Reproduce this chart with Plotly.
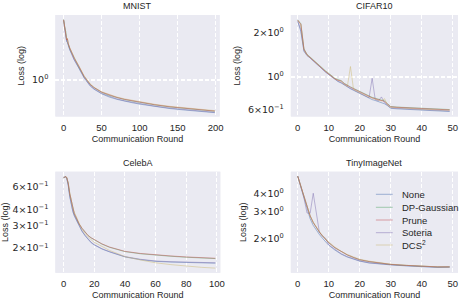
import math
import plotly.graph_objects as go

# ---------------- data ----------------
series_names = ["None", "DP-Gaussian", "Prune", "Soteria", "DCS<sup>2</sup>"]
series_colors = ["#4C72B0", "#55A868", "#C44E52", "#8172B2", "#CCB974"]

# MNIST
mnist_rounds = [0, 1, 2, 3, 4, 5, 6, 8, 10, 14, 20, 27, 35, 40, 50, 60, 70, 80, 90, 100, 120, 140, 160, 180, 199]
mnist_none = [2.28, 2.10, 1.93, 1.80, 1.70, 1.68, 1.61, 1.52, 1.45, 1.32, 1.18, 1.03, 0.92, 0.88, 0.826, 0.79, 0.765, 0.745, 0.73, 0.716, 0.692, 0.673, 0.659, 0.646, 0.636]
mnist_dp = [2.31, 2.12, 2.02, 1.95, 1.75, 1.76, 1.65, 1.55, 1.48, 1.35, 1.20, 1.05, 0.94, 0.90, 0.843, 0.808, 0.783, 0.763, 0.748, 0.733, 0.708, 0.688, 0.673, 0.659, 0.649]
mnist_prune = [2.30, 2.15, 1.98, 1.84, 1.74, 1.77, 1.66, 1.56, 1.49, 1.35, 1.21, 1.05, 0.94, 0.90, 0.845, 0.81, 0.785, 0.765, 0.75, 0.735, 0.71, 0.69, 0.675, 0.66, 0.65]
mnist_soteria = [2.29, 2.12, 1.95, 1.81, 1.71, 1.70, 1.62, 1.53, 1.46, 1.325, 1.185, 1.035, 0.925, 0.885, 0.83, 0.795, 0.77, 0.75, 0.735, 0.72, 0.696, 0.677, 0.662, 0.649, 0.639]
mnist_dcs = [2.30, 2.16, 1.99, 1.85, 1.76, 1.79, 1.67, 1.57, 1.50, 1.36, 1.22, 1.06, 0.95, 0.905, 0.85, 0.815, 0.79, 0.77, 0.755, 0.74, 0.714, 0.694, 0.679, 0.664, 0.654]

# CIFAR10
cifar_rounds = list(range(0, 31)) + [32, 35, 38, 41, 44, 47, 49]
cifar_none = [2.40, 2.05, 1.50, 1.40, 1.35, 1.29, 1.23, 1.17, 1.12, 1.08, 1.04, 1.00, 0.96, 0.93, 0.91, 0.88, 0.85, 0.83, 0.81, 0.79, 0.77, 0.75, 0.73, 0.71, 0.70, 0.69, 0.68, 0.67, 0.655, 0.635, 0.61, 0.605, 0.60, 0.595, 0.59, 0.585, 0.582, 0.58]
cifar_dp = [2.46, 2.32, 1.56, 1.43, 1.37, 1.31, 1.25, 1.19, 1.14, 1.10, 1.06, 1.02, 0.98, 0.96, 0.945, 0.905, 0.875, 0.855, 0.835, 0.815, 0.795, 0.775, 0.755, 0.745, 0.725, 0.715, 0.705, 0.695, 0.685, 0.655, 0.628, 0.622, 0.617, 0.612, 0.607, 0.603, 0.60, 0.598]
cifar_prune = [2.45, 2.30, 1.55, 1.42, 1.36, 1.30, 1.24, 1.18, 1.13, 1.09, 1.05, 1.01, 0.97, 0.95, 0.94, 0.90, 0.87, 0.85, 0.83, 0.81, 0.79, 0.77, 0.75, 0.74, 0.72, 0.71, 0.70, 0.69, 0.68, 0.65, 0.625, 0.62, 0.615, 0.61, 0.605, 0.60, 0.598, 0.595]
cifar_soteria = [2.42, 2.10, 1.52, 1.41, 1.35, 1.29, 1.23, 1.17, 1.12, 1.08, 1.04, 1.00, 0.96, 0.935, 0.915, 0.885, 0.86, 0.835, 0.815, 0.795, 0.775, 0.755, 0.735, 0.72, 0.98, 0.70, 0.685, 0.73, 0.665, 0.64, 0.615, 0.61, 0.605, 0.60, 0.595, 0.59, 0.587, 0.585]
cifar_dcs = [2.44, 2.28, 1.54, 1.41, 1.36, 1.30, 1.24, 1.18, 1.13, 1.09, 1.05, 1.01, 0.97, 0.95, 0.93, 0.89, 0.86, 1.18, 0.82, 0.80, 0.78, 0.76, 0.745, 0.73, 0.715, 0.705, 0.695, 0.685, 0.71, 0.64, 0.62, 0.615, 0.61, 0.605, 0.60, 0.597, 0.594, 0.592]

# CelebA
celeba_rounds = [0, 1, 2, 3, 4, 5, 6, 7, 8, 10, 12, 14, 16, 18, 20, 25, 30, 35, 40, 50, 60, 70, 80, 90, 99]
celeba_none = [0.70, 0.72, 0.70, 0.62, 0.50, 0.43, 0.385, 0.355, 0.335, 0.30, 0.27, 0.25, 0.232, 0.22, 0.212, 0.197, 0.187, 0.178, 0.171, 0.163, 0.158, 0.156, 0.155, 0.154, 0.153]
celeba_dp = [0.70, 0.72, 0.71, 0.64, 0.53, 0.46, 0.41, 0.37, 0.35, 0.31, 0.285, 0.265, 0.25, 0.24, 0.232, 0.215, 0.203, 0.195, 0.188, 0.181, 0.176, 0.173, 0.170, 0.168, 0.166]
celeba_prune = [0.70, 0.72, 0.71, 0.64, 0.53, 0.46, 0.41, 0.37, 0.35, 0.31, 0.286, 0.266, 0.251, 0.241, 0.233, 0.216, 0.204, 0.196, 0.189, 0.182, 0.177, 0.174, 0.171, 0.169, 0.167]
celeba_soteria = [0.70, 0.72, 0.70, 0.62, 0.51, 0.44, 0.39, 0.36, 0.34, 0.303, 0.273, 0.252, 0.236, 0.222, 0.213, 0.198, 0.188, 0.179, 0.172, 0.164, 0.159, 0.157, 0.156, 0.155, 0.154]
celeba_dcs = [0.70, 0.72, 0.71, 0.65, 0.54, 0.46, 0.41, 0.38, 0.355, 0.31, 0.28, 0.26, 0.245, 0.232, 0.222, 0.205, 0.192, 0.182, 0.172, 0.162, 0.154, 0.149, 0.145, 0.142, 0.140]

# TinyImageNet
tiny_rounds = [0, 1, 2, 3, 4, 5, 6, 7, 8, 9, 10, 12, 14, 16, 18, 20, 23, 26, 30, 35, 40, 45, 49]
tiny_none = [5.20, 4.40, 3.70, 3.12, 2.70, 2.44, 2.26, 2.12, 2.00, 1.89, 1.80, 1.67, 1.57, 1.50, 1.45, 1.41, 1.37, 1.35, 1.33, 1.31, 1.295, 1.28, 1.285]
tiny_dp = [5.20, 4.50, 3.80, 3.25, 2.82, 2.55, 2.36, 2.20, 2.07, 1.96, 1.87, 1.73, 1.63, 1.55, 1.49, 1.44, 1.40, 1.37, 1.34, 1.32, 1.30, 1.29, 1.29]
tiny_prune = [5.20, 4.50, 3.80, 3.25, 2.82, 2.55, 2.36, 2.20, 2.07, 1.96, 1.87, 1.73, 1.63, 1.55, 1.49, 1.44, 1.40, 1.37, 1.34, 1.32, 1.30, 1.29, 1.29]
tiny_soteria = [5.20, 4.42, 3.72, 2.95, 2.94, 4.00, 2.95, 2.18, 2.08, 2.00, 1.81, 1.68, 1.58, 1.51, 1.455, 1.415, 1.375, 1.355, 1.335, 1.315, 1.30, 1.285, 1.29]
tiny_dcs = [5.20, 4.52, 3.82, 3.27, 2.84, 2.57, 2.38, 2.22, 2.09, 1.98, 1.89, 1.75, 1.64, 1.56, 1.50, 1.45, 1.41, 1.375, 1.345, 1.322, 1.302, 1.292, 1.29]

# tick labels
mnist_xticks = [0, 50, 100, 150, 200]
cifar_xticks = [0, 10, 20, 30, 40, 50]
celeba_xticks = [0, 20, 40, 60, 80, 100]
tiny_xticks = [0, 10, 20, 30, 40, 50]
mnist_yticks = [1.0]
mnist_yticktext = ["10<sup>0</sup>"]
cifar_yticks = [0.6, 1.0, 2.0]
cifar_yticktext = ["6×10<sup>−1</sup>", "10<sup>0</sup>", "2×10<sup>0</sup>"]
celeba_yticks = [0.2, 0.3, 0.4, 0.6]
celeba_yticktext = ["2×10<sup>−1</sup>", "3×10<sup>−1</sup>", "4×10<sup>−1</sup>", "6×10<sup>−1</sup>"]
tiny_yticks = [2.0, 3.0, 4.0]
tiny_yticktext = ["2×10<sup>0</sup>", "3×10<sup>0</sup>", "4×10<sup>0</sup>"]

# ---------------- layout geometry ----------------
W, H = 465, 303
TEXT = "#262626"
BG = "#EAEAF2"
FONT = "Liberation Sans"
MATHFONT = "DejaVu Sans"
LINE_W = 0.9
LINE_OP = 0.55


def px_x(a, b):
    return [a / W, b / W]


def px_y(top, bottom):
    return [1 - bottom / H, 1 - top / H]


panels = [
    dict(title="MNIST", rounds=mnist_rounds,
         ys=[mnist_none, mnist_dp, mnist_prune, mnist_soteria, mnist_dcs],
         xdom=px_x(56, 222), ydom=px_y(15, 116.5), xrange=[-10.8, 205.3],
         yrange=[0.603, 2.46], xticks=mnist_xticks, yticks=mnist_yticks,
         yticktext=mnist_yticktext, grid1=True),
    dict(title="CIFAR10", rounds=cifar_rounds,
         ys=[cifar_none, cifar_dp, cifar_prune, cifar_soteria, cifar_dcs],
         xdom=px_x(294, 463), ydom=px_y(15, 116.5), xrange=[-2.23, 51.7],
         yrange=[0.536, 2.66], xticks=cifar_xticks, yticks=cifar_yticks,
         yticktext=cifar_yticktext, grid1=True),
    dict(title="CelebA", rounds=celeba_rounds,
         ys=[celeba_none, celeba_dp, celeba_prune, celeba_soteria, celeba_dcs],
         xdom=px_x(56, 222.7), ydom=px_y(171.7, 272.7), xrange=[-5.35, 102.2],
         yrange=[0.129, 0.785], xticks=celeba_xticks, yticks=celeba_yticks,
         yticktext=celeba_yticktext, grid1=False),
    dict(title="TinyImageNet", rounds=tiny_rounds,
         ys=[tiny_none, tiny_dp, tiny_prune, tiny_soteria, tiny_dcs],
         xdom=px_x(294, 463), ydom=px_y(171.7, 272.7), xrange=[-2.23, 51.7],
         yrange=[1.18, 5.57], xticks=tiny_xticks, yticks=tiny_yticks,
         yticktext=tiny_yticktext, grid1=False),
]

# drawing order (later on top): None, Soteria, DP-Gaussian, DCS2, Prune
draw_order = [0, 3, 1, 4, 2]

fig = go.Figure()
annotations = []
shapes = []

for i, p in enumerate(panels):
    k = "" if i == 0 else str(i + 1)
    for j in draw_order:
        fig.add_trace(go.Scatter(
            x=p["rounds"], y=p["ys"][j], mode="lines", name=series_names[j],
            line=dict(color=series_colors[j], width=LINE_W), opacity=LINE_OP,
            xaxis="x" + k, yaxis="y" + k, showlegend=False, hoverinfo="skip",
        ))
    xa = dict(
        domain=p["xdom"], anchor="y" + k, range=p["xrange"],
        tickvals=p["xticks"], ticktext=[str(t) for t in p["xticks"]],
        showgrid=True, gridcolor="white", griddash="4px,2px", gridwidth=1.1,
        zeroline=False, showline=False, ticks="",
        tickfont=dict(family=FONT, size=9.5, color=TEXT), ticklabelstandoff=4,
        title=dict(text="Communication Round", font=dict(family=FONT, size=9, color=TEXT), standoff=3),
    )
    ya = dict(
        domain=p["ydom"], anchor="x" + k, type="log",
        range=[math.log10(p["yrange"][0]), math.log10(p["yrange"][1])],
        tickvals=p["yticks"], ticktext=p["yticktext"],
        showgrid=False, zeroline=False, showline=False, ticks="",
        tickfont=dict(family=MATHFONT, size=9.5, color=TEXT), ticklabelstandoff=6,
        title=dict(text="Loss (log)", font=dict(family=FONT, size=9, color=TEXT), standoff=5),
    )
    if p["grid1"]:
        ya["minor"] = dict(tickmode="array", tickvals=[1.0], showgrid=True,
                           gridcolor="white", griddash="4px,2px", gridwidth=1.1, ticks="")
    fig.update_layout(**{"xaxis" + k: xa, "yaxis" + k: ya})
    # plot background
    shapes.append(dict(type="rect", xref="paper", yref="paper",
                       x0=p["xdom"][0], x1=p["xdom"][1], y0=p["ydom"][0], y1=p["ydom"][1],
                       fillcolor=BG, line=dict(width=0), layer="below"))
    annotations.append(dict(text=p["title"], xref="paper", yref="paper",
                            x=(p["xdom"][0] + p["xdom"][1]) / 2, y=p["ydom"][1],
                            xanchor="center", yanchor="bottom", yshift=2, showarrow=False,
                            font=dict(family=FONT, size=9, color=TEXT)))

# legend (inside TinyImageNet panel)
leg_rows = [194.3, 207.3, 220.0, 232.7, 245.0]
for name, color, ry in zip(series_names, series_colors, leg_rows):
    yp = 1 - ry / H
    shapes.append(dict(type="line", xref="paper", yref="paper",
                       x0=380 / W, x1=397 / W, y0=yp, y1=yp,
                       line=dict(color=color, width=LINE_W), opacity=LINE_OP))
    annotations.append(dict(text=name, xref="paper", yref="paper", x=404 / W, y=yp,
                            xanchor="left", yanchor="middle", showarrow=False,
                            font=dict(family=FONT, size=9.5, color=TEXT)))

fig.update_layout(
    width=W, height=H, margin=dict(l=0, r=0, t=0, b=0),
    paper_bgcolor="white", plot_bgcolor=BG,
    showlegend=False, shapes=shapes, annotations=annotations,
    font=dict(family=FONT, size=9.5, color=TEXT), hovermode=False,
)

fig.write_html("out.html", config={"displayModeBar": False, "staticPlot": True},
               post_script="document.body.style.margin='0';document.body.style.padding='0';")
